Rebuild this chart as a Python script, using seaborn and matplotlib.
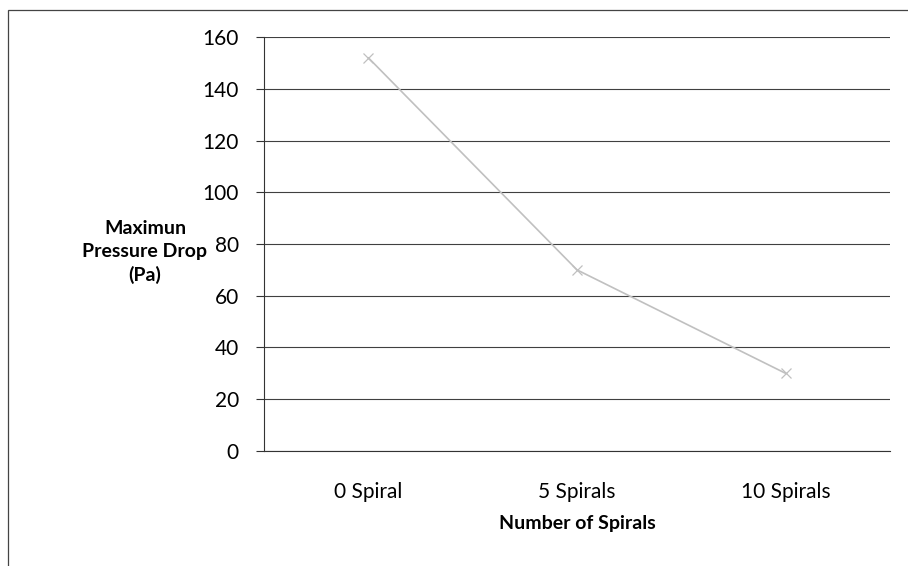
import matplotlib
matplotlib.use("Agg")
import matplotlib.pyplot as plt
from matplotlib.patches import Rectangle
import seaborn as sns
import pandas as pd

# Data
categories = ["0 Spiral", "5 Spirals", "10 Spirals"]
pressure_drop = [152, 70, 30]
y_ticks = [0, 20, 40, 60, 80, 100, 120, 140, 160]

df = pd.DataFrame({"spirals": categories, "drop": pressure_drop})

sns.set_theme(style="white")
plt.rcParams["font.family"] = ["Lato", "DejaVu Sans"]
plt.rcParams["text.color"] = "black"

fig = plt.figure(figsize=(9.08, 5.66), dpi=100)
ax = fig.add_axes([0.2907, 0.2032, 0.9802 - 0.2907, 0.9346 - 0.2032])

# horizontal gridlines
for v in y_ticks:
    ax.axhline(v, color="#404040", lw=0.8, zorder=1)

sns.pointplot(data=df, x="spirals", y="drop", ax=ax, color="#c0c0c0",
              markers="x", markersize=7, linewidth=1.2, linestyles="-",
              zorder=3)

ax.set_xlim(-0.5, 2.5)
ax.set_ylim(0, 160)
ax.set_yticks(y_ticks)
ax.set_yticklabels([str(v) for v in y_ticks], fontsize=15, color="black")
ax.set_xticks(range(len(categories)))
ax.set_xticklabels(categories, fontsize=15, color="black")
ax.tick_params(axis="x", which="major", length=0, pad=22)
ax.set_xticks([-0.5, 0.5, 1.5, 2.5], minor=True)
ax.tick_params(axis="x", which="minor", length=6, width=0.8, color="#333333",
               direction="out")
ax.tick_params(axis="y", which="major", length=6, width=0.8, color="#333333",
               direction="out", pad=12, left=True)

for side in ["top", "right"]:
    ax.spines[side].set_visible(False)
ax.spines["left"].set_color("#333333")
ax.spines["left"].set_linewidth(0.8)
ax.spines["bottom"].set_color("#333333")
ax.spines["bottom"].set_linewidth(0.8)

ax.set_xlabel("Number of Spirals", fontsize=14, fontweight="bold",
              labelpad=10, color="black")
ax.set_ylabel("")
fig.text(145 / 908, 1 - 252 / 566, "Maximun\nPressure Drop\n(Pa)",
         ha="center", va="center", fontsize=14, fontweight="bold",
         linespacing=1.4, color="black")

# chart-area border
fig.patches.append(Rectangle((8 / 908, -0.05), 1.2, 1 - 10 / 566 + 0.05,
                             transform=fig.transFigure, fill=False,
                             edgecolor="#444444", lw=0.9))

fig.savefig("out.png", dpi=100)
